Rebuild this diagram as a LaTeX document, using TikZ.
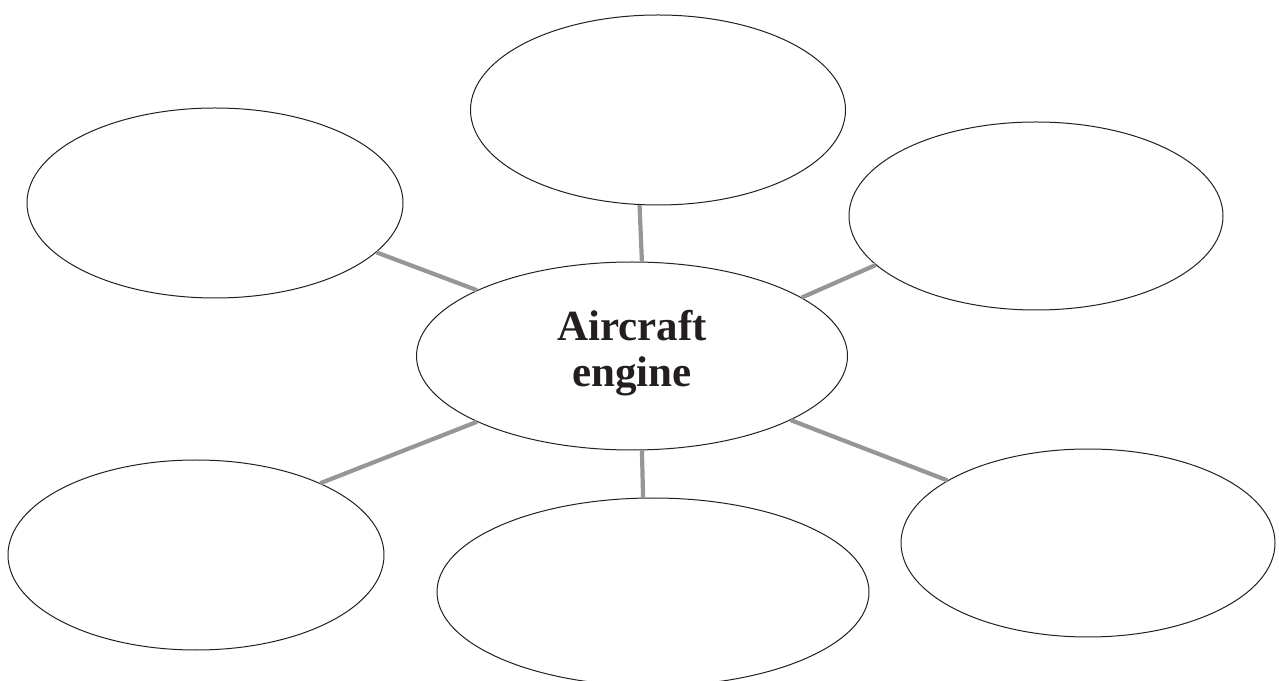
\documentclass[tikz,border=0pt]{standalone}
\usepackage{fontspec}
\setmainfont{Liberation Serif}
\usetikzlibrary{shapes.geometric}
\definecolor{conngray}{RGB}{150,150,152}
\definecolor{inkdark}{RGB}{35,31,32}
\begin{document}
\begin{tikzpicture}[x=1pt,y=1pt,
  bubble/.style={ellipse, draw=inkdark, line width=1pt, inner sep=0pt},
  spoke/.style={draw=conngray, line width=4.2pt}]
\useasboundingbox (0,0) rectangle (1279,680);
% centre (pixel y -> 680 - y)
\node[bubble, minimum width=431pt, minimum height=188pt] (c) at (632,324) {};
\node[text=inkdark, font=\fontsize{43}{46}\selectfont\bfseries, align=center,
      inner sep=0pt] (lbl) at ([yshift=3pt]c.center) {Aircraft\\engine};
\node[bubble, minimum width=375pt, minimum height=190pt] (t)  at (658,570) {};
\node[bubble, minimum width=376pt, minimum height=190pt] (tl) at (215,477) {};
\node[bubble, minimum width=374pt, minimum height=188pt] (tr) at (1036,464) {};
\node[bubble, minimum width=376pt, minimum height=190pt] (bl) at (196,125) {};
\node[bubble, minimum width=432pt, minimum height=188pt] (bc) at (653,88) {};
\node[bubble, minimum width=374pt, minimum height=188pt] (br) at (1088,137) {};
\draw[spoke] (c.84.5) -- (t.259.3);
\draw[spoke] (c.157.5) -- (tl.-17.5);
\draw[spoke] (c.19.65) -- (tr.197.8);
\draw[spoke] (c.203.1) -- (bl.30.4);
\draw[spoke] (c.276.7) -- (bc.96.3);
\draw[spoke] (c.-22.7) -- (br.156.8);
\end{tikzpicture}
\end{document}
